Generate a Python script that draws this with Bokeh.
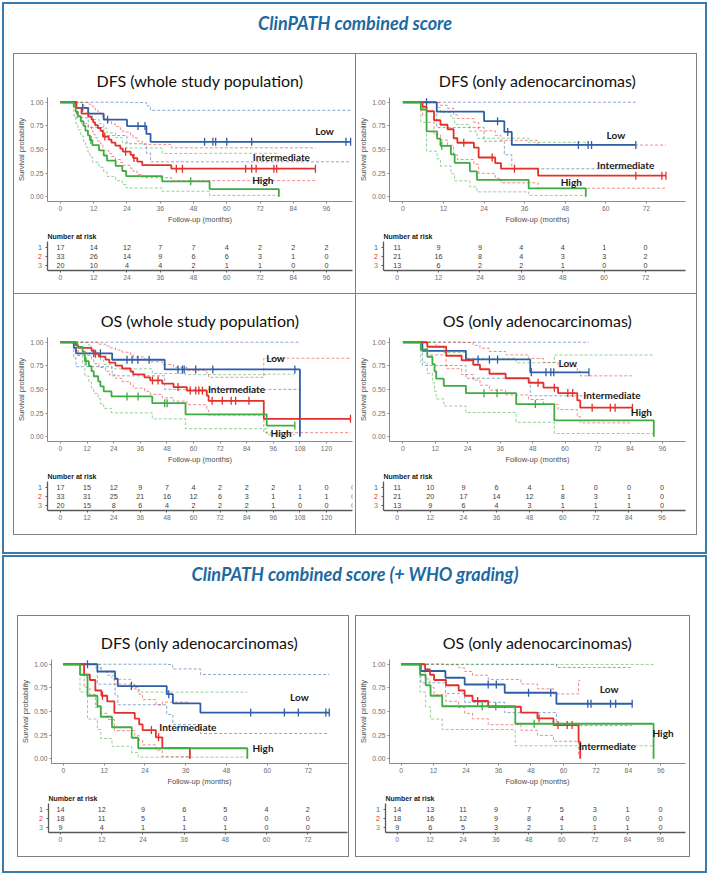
import math

from bokeh.core.properties import value
from bokeh.embed import file_html
from bokeh.layouts import column, row
from bokeh.models import FixedTicker, PrintfTickFormatter, Range1d, Spacer
from bokeh.plotting import figure
from bokeh.resources import INLINE

# ------------------------------------------------------------------ data
# For every risk group: event times and censoring times (months).
# The risk tables hold the printed numbers at risk at each break.

# DFS - whole study population
dfs_all_low_events = [5.7, 10, 15.6, 24, 31, 32.5]
dfs_all_low_censored = [8, 17, 28, 30.5, 52, 55, 56, 60, 69, 103, 104.7]
dfs_all_int_events = [5.7, 5.7, 7.6, 7.6, 10, 11.2, 11.8, 12.5, 13.5, 14.5, 15.3, 15.3,
                      17.4, 18.4, 19.8, 21.6, 22.5, 25.3, 26.2, 27.7, 29.5, 40]
dfs_all_int_censored = [16, 23.5, 26.5, 41.8, 44, 66.8, 69, 70.6, 77, 78, 92]
dfs_all_high_events = [4.8, 5.5, 6.3, 7.3, 8.3, 9.0, 9.9, 10.6, 11.5, 13.9, 15.6, 16.8,
                       19.9, 22.3, 23.7, 36.7, 53.8, 78.8]
dfs_all_high_censored = [11.0, 47]
dfs_all_breaks = [0, 12, 24, 36, 48, 60, 72, 84, 96]
dfs_all_risk_low = [17, 14, 12, 7, 7, 4, 2, 2, 2]
dfs_all_risk_int = [33, 26, 14, 9, 6, 6, 3, 1, 0]
dfs_all_risk_high = [20, 10, 4, 4, 2, 1, 1, 0, 0]

# DFS - adenocarcinomas only
dfs_adc_low_events = [10, 24, 30, 32.2]
dfs_adc_low_censored = [7, 28, 31, 51.9, 54.8, 55.8, 68.9]
dfs_adc_int_events = [5.8, 7, 9.2, 9.2, 11.1, 13.2, 15, 15, 16.1, 21, 22.4, 22.4, 27.3, 29, 40]
dfs_adc_int_censored = [18, 26.4, 33, 68.9, 76.6, 77.8]
dfs_adc_high_events = [5.3, 7, 7, 7, 10.1, 11.1, 14.2, 15.3, 19.8, 21.9, 37.2, 54.1]
dfs_adc_high_censored = [11.5]
dfs_adc_breaks = [0, 12, 24, 36, 48, 60, 72]
dfs_adc_risk_low = [11, 9, 9, 4, 4, 1, 0]
dfs_adc_risk_int = [21, 16, 8, 4, 3, 3, 2]
dfs_adc_risk_high = [13, 6, 2, 2, 1, 0, 0]

# OS - whole study population
os_all_low_events = [6, 7, 23.3, 47, 108]
os_all_low_censored = [15, 18, 30, 32.3, 34.9, 40, 53, 55, 55.8, 61, 68.7, 105.7]
os_all_int_events = [6.8, 8, 14, 15, 17.3, 20.3, 22, 24.8, 27.8, 31.6, 32.8, 37.9, 40.5,
                     45.9, 51, 57, 66, 66.8, 91.7]
os_all_int_censored = [15.8, 41.5, 44, 53, 58.5, 61, 62.4, 64, 68.4, 73, 77, 79, 85, 130.8]
os_all_high_events = [7.5, 10, 11, 11, 12.8, 14, 15, 17, 18, 19.5, 23, 41.4, 56.4, 93]
os_all_high_censored = [11.5, 30, 35, 47, 48.1, 105.7]
os_all_breaks = [0, 12, 24, 36, 48, 60, 72, 84, 96, 108, 120, 132]
os_all_risk_low = [17, 15, 12, 9, 7, 4, 2, 2, 2, 1, 0, 0]
os_all_risk_int = [33, 31, 25, 21, 16, 12, 6, 3, 1, 1, 1, 0]
os_all_risk_high = [20, 15, 8, 6, 4, 2, 2, 2, 1, 0, 0, 0]

# OS - adenocarcinomas only
os_adc_low_events = [7.2, 23.3, 47.1]
os_adc_low_censored = [27.8, 32, 35, 47.5, 52.9, 54.7, 55.8, 68.8]
os_adc_int_events = [9, 16, 16, 21.7, 26, 28.5, 32, 38, 46.5, 52, 57.4, 64.5, 65.6]
os_adc_int_censored = [50, 56, 61, 62.8, 70, 76.7, 78.5, 84.9]
os_adc_high_events = [6.6, 9, 10.9, 11.7, 12.3, 15.1, 23.3, 41.9, 56, 92.8]
os_adc_high_censored = [30, 34.8, 49]
os_adc_breaks = [0, 12, 24, 36, 48, 60, 72, 84, 96]
os_adc_risk_low = [11, 10, 9, 6, 4, 1, 0, 0, 0]
os_adc_risk_int = [21, 20, 17, 14, 12, 8, 3, 1, 0]
os_adc_risk_high = [13, 9, 6, 4, 3, 1, 1, 1, 0]

# DFS - adenocarcinomas, score with WHO grading
who_dfs_low_events = [10, 15.2, 16, 30.4, 32.2, 40.3]
who_dfs_low_censored = [7.1, 20, 31, 55.1, 65, 69.1, 77.2, 78.2]
who_dfs_int_events = [6.1, 6.1, 7.8, 9.4, 9.4, 11.2, 12.9, 15, 15, 21, 22.3, 23.3, 27.2, 29.1, 37.2]
who_dfs_int_censored = [11.5, 25.9, 28]
who_dfs_high_events = [4.9, 7.1, 7.1, 10, 11, 14.3, 20.1, 22, 54.1]
who_dfs_high_censored = []
who_dfs_breaks = [0, 12, 24, 36, 48, 60, 72]
who_dfs_risk_low = [14, 12, 9, 6, 5, 4, 2]
who_dfs_risk_int = [18, 11, 5, 1, 0, 0, 0]
who_dfs_risk_high = [9, 4, 1, 1, 1, 0, 0]

# OS - adenocarcinomas, score with WHO grading
who_os_low_events = [7.3, 16.4, 23.5, 38.3, 57.4]
who_os_low_censored = [32.2, 35.2, 47.1, 55.3, 69, 70.2, 77.4, 79.3, 85.4]
who_os_int_events = [8.9, 10.7, 12.2, 16.6, 21.3, 23.5, 26.4, 32.2, 44.3, 50.4, 56.3, 65.6, 66.2]
who_os_int_censored = [28.3, 51, 58, 61.4, 63.2]
who_os_high_events = [7, 9.1, 10.9, 15.2, 42.2, 93.3]
who_os_high_censored = [30, 35, 49.2]
who_os_breaks = [0, 12, 24, 36, 48, 60, 72, 84, 96]
who_os_risk_low = [14, 13, 11, 9, 7, 5, 3, 1, 0]
who_os_risk_int = [18, 16, 12, 9, 8, 4, 0, 0, 0]
who_os_risk_high = [9, 6, 5, 3, 2, 1, 1, 1, 0]

GROUP_NAMES = ["Low", "Intermediate", "High"]
STRATA = ["1", "2", "3"]

# ------------------------------------------------------------------ style
GROUP_COLORS = ["#2f5ea8", "#e4302b", "#3dad42"]
ROW_Y = [3, 2, 1]
FRAME_BLUE = "#3b7bab"
TITLE_BLUE = "#1c6aa0"
BOX_GRAY = "#808080"
AXIS_GRAY = "#8a8a8a"
TABLE_AXIS = "#5a5a5a"

PANELS = [
    dict(title="DFS (whole study population)",
         groups=[(dfs_all_low_events, dfs_all_low_censored),
                 (dfs_all_int_events, dfs_all_int_censored),
                 (dfs_all_high_events, dfs_all_high_censored)],
         risk=[dfs_all_risk_low, dfs_all_risk_int, dfs_all_risk_high],
         breaks=dfs_all_breaks, xrange=(-4.69, 105.38),
         labels=[(95.3, 0.695), (79.7, 0.417), (73.0, 0.176)]),
    dict(title="DFS (only adenocarcinomas)",
         groups=[(dfs_adc_low_events, dfs_adc_low_censored),
                 (dfs_adc_int_events, dfs_adc_int_censored),
                 (dfs_adc_high_events, dfs_adc_high_censored)],
         risk=[dfs_adc_risk_low, dfs_adc_risk_int, dfs_adc_risk_high],
         breaks=dfs_adc_breaks, xrange=(-3.97, 83.59),
         labels=[(63.0, 0.654), (65.9, 0.336), (49.8, 0.159)]),
    dict(title="OS (whole study population)",
         groups=[(os_all_low_events, os_all_low_censored),
                 (os_all_int_events, os_all_int_censored),
                 (os_all_high_events, os_all_high_censored)],
         risk=[os_all_risk_low, os_all_risk_int, os_all_risk_high],
         breaks=os_all_breaks, xrange=(-5.86, 131.71),
         labels=[(97.0, 0.834), (79.4, 0.503), (99.5, 0.035)]),
    dict(title="OS (only adenocarcinomas)",
         groups=[(os_adc_low_events, os_adc_low_censored),
                 (os_adc_int_events, os_adc_int_censored),
                 (os_adc_high_events, os_adc_high_censored)],
         risk=[os_adc_risk_low, os_adc_risk_int, os_adc_risk_high],
         breaks=os_adc_breaks, xrange=(-4.97, 104.53),
         labels=[(61.0, 0.78), (77.3, 0.443), (88.2, 0.257)]),
    dict(title="DFS (only adenocarcinomas)",
         groups=[(who_dfs_low_events, who_dfs_low_censored),
                 (who_dfs_int_events, who_dfs_int_censored),
                 (who_dfs_high_events, who_dfs_high_censored)],
         risk=[who_dfs_risk_low, who_dfs_risk_int, who_dfs_risk_high],
         breaks=who_dfs_breaks, xrange=(-3.49, 83.56),
         labels=[(69.4, 0.65), (36.6, 0.337), (58.7, 0.109)]),
    dict(title="OS (only adenocarcinomas)",
         groups=[(who_os_low_events, who_os_low_censored),
                 (who_os_int_events, who_os_int_censored),
                 (who_os_high_events, who_os_high_censored)],
         risk=[who_os_risk_low, who_os_risk_int, who_os_risk_high],
         breaks=who_os_breaks, xrange=(-4.27, 105.1),
         labels=[(76.9, 0.735), (76.2, 0.14), (96.8, 0.27)]),
]


def km_estimate(events, censored):
    """Kaplan-Meier estimate with log-transformed 95% Greenwood limits."""
    obs = [(t, 1) for t in events] + [(t, 0) for t in censored]
    s, h = 1.0, 0.0
    ts, ss, lo, up = [0.0], [1.0], [1.0], [1.0]
    cens_t, cens_s = [], []
    for t in sorted(set(v for v, _ in obs)):
        n = sum(1 for v, _ in obs if v >= t)
        d = sum(1 for v, e in obs if v == t and e == 1)
        c = sum(1 for v, e in obs if v == t and e == 0)
        if d:
            s *= 1.0 - d / n
            if n > d:
                h += d / (n * (n - d))
                se = math.sqrt(h)
                lo_v, up_v = s * math.exp(-1.96 * se), min(1.0, s * math.exp(1.96 * se))
            else:
                lo_v = up_v = float("nan")
            ts.append(t); ss.append(s); lo.append(lo_v); up.append(up_v)
        if c:
            cens_t.append(t); cens_s.append(s)
    t_end = max(v for v, _ in obs)
    if ts[-1] < t_end:
        ts.append(t_end); ss.append(s); lo.append(lo[-1]); up.append(up[-1])
    return ts, ss, lo, up, cens_t, cens_s


def step_path(ts, vs):
    xs, ys = [ts[0]], [vs[0]]
    for i in range(1, len(ts)):
        xs.append(ts[i]); ys.append(vs[i - 1])
        if math.isnan(vs[i]):
            break
        xs.append(ts[i]); ys.append(vs[i])
    return xs, ys


def style_axes(fig, color, width):
    fig.xgrid.visible = False
    fig.ygrid.visible = False
    fig.outline_line_color = None
    for ax in fig.axis:
        ax.axis_line_color = color
        ax.axis_line_width = width
        ax.major_tick_line_color = color
        ax.major_tick_out = 2
        ax.major_tick_in = 0
        ax.minor_tick_line_color = None
        ax.major_label_text_font = "Liberation Sans"
        ax.major_label_text_font_size = "6.8px"
        ax.major_label_text_color = "#707070"
        ax.major_label_standoff = 2
        ax.axis_label_text_font = "Liberation Sans"
        ax.axis_label_text_font_size = "7.5px"
        ax.axis_label_text_font_style = "normal"
        ax.axis_label_text_color = "#4d4d4d"
        ax.axis_label_standoff = 1


def survival_plot(spec, width, left, right):
    start, end = spec["xrange"]
    p = figure(width=width, height=172, x_range=Range1d(start, end), y_range=Range1d(-0.05, 1.05),
               min_border_left=left, min_border_right=right, min_border_top=43, min_border_bottom=22,
               toolbar_location=None, output_backend="svg", title=spec["title"])
    p.title.align = "center"
    p.title.text_font = "Lato"
    p.title.text_font_size = "16px"
    p.title.text_font_style = "normal"
    p.title.text_color = "#111111"
    p.title.standoff = 16
    style_axes(p, AXIS_GRAY, 1)
    p.xaxis.ticker = FixedTicker(ticks=spec["breaks"])
    p.yaxis.ticker = FixedTicker(ticks=[0, 0.25, 0.5, 0.75, 1.0])
    p.yaxis.formatter = PrintfTickFormatter(format="%.2f")
    p.xaxis.axis_label = "Follow-up (months)"
    p.yaxis.axis_label = "Survival probability"

    fits = [km_estimate(e, c) for e, c in spec["groups"]]
    # confidence limits first, then the estimates on top
    for fit, color in zip(fits, GROUP_COLORS):
        ts, _, lo, up, _, _ = fit
        for band in (lo, up):
            bx, by = step_path(ts, band)
            p.line(bx, by, line_color=color, line_alpha=0.55, line_width=1, line_dash="3 2")
    for fit, color in zip(fits, GROUP_COLORS):
        ts, ss, _, _, ct, cs = fit
        sx, sy = step_path(ts, ss)
        p.line(sx, sy, line_color=color, line_width=1.8)
        p.scatter(ct, cs, marker="dash", angle=math.pi / 2, size=8,
                  line_color=color, line_width=1.3)
    p.text([pt[0] for pt in spec["labels"]], [pt[1] for pt in spec["labels"]], text=GROUP_NAMES,
           text_font=value("Lato"), text_font_style="bold", text_font_size="10px",
           text_color="#1a1a1a", text_align="center", text_baseline="middle")
    return p


def risk_table(spec, width, left, right, table_h, x_range):
    """Numbers at risk; the coloured stratum keys sit in a narrow strip to the left."""
    key_w = left - 5
    frame_top, frame_h = 15, 29
    bottom = table_h - frame_top - frame_h
    y_range = Range1d(0.444, 3.667)

    keys = figure(width=key_w, height=table_h, x_range=Range1d(0, key_w), y_range=y_range,
                  min_border_left=0, min_border_right=0, min_border_top=frame_top,
                  min_border_bottom=bottom, toolbar_location=None, output_backend="svg",
                  x_axis_type=None, y_axis_type=None, outline_line_color=None)
    keys.text([key_w - 0.5] * 3, ROW_Y, text=STRATA, text_color=GROUP_COLORS,
              text_font=value("Liberation Sans"), text_font_size="7.2px",
              text_align="right", text_baseline="middle")

    tab = figure(width=width - key_w, height=table_h, x_range=x_range, y_range=y_range,
                 min_border_left=5, min_border_right=right, min_border_top=frame_top,
                 min_border_bottom=bottom, toolbar_location=None, output_backend="svg",
                 title="Number at risk")
    tab.title.align = "left"
    tab.title.text_font = "Liberation Sans"
    tab.title.text_font_size = "7px"
    tab.title.text_font_style = "bold"
    tab.title.text_color = "#222222"
    tab.title.standoff = 3
    style_axes(tab, TABLE_AXIS, 1.3)
    tab.xaxis.ticker = FixedTicker(ticks=spec["breaks"])
    tab.yaxis.ticker = FixedTicker(ticks=ROW_Y)
    tab.yaxis.major_label_overrides = {y: "" for y in ROW_Y}
    tab.yaxis.major_label_standoff = 0
    for counts, y in zip(spec["risk"], ROW_Y):
        tab.text(spec["breaks"], [y] * len(counts), text=[str(v) for v in counts],
                 text_font=value("Liberation Sans"), text_font_size="7.2px", text_color="#3d3d3d",
                 text_align="center", text_baseline="middle")
    return row(keys, tab)


def survival_panel(spec, width, left, right, table_h):
    p = survival_plot(spec, width, left, right)
    return column(p, risk_table(spec, width, left, right, table_h, p.x_range))


def rule(w, h, color):
    return Spacer(width=w, height=h, styles={"background-color": color})


def gap(w, h):
    return Spacer(width=w, height=h)


def banner(text, w, h, cy, size):
    f = figure(width=w, height=h, x_range=Range1d(0, w), y_range=Range1d(0, h), min_border=0,
               toolbar_location=None, output_backend="svg", x_axis_type=None, y_axis_type=None,
               outline_line_color=None)
    f.text([w / 2], [h - cy], text=[text], text_font=value("Lato"), text_font_style="bold italic",
           text_font_size=size, text_color=TITLE_BLUE, text_align="center", text_baseline="middle")
    return f


# ------------------------------------------------------------------ layout
q1 = survival_panel(PANELS[0], 341, 33, 3, 67)
q2 = survival_panel(PANELS[1], 340, 27, 11, 67)
q3 = survival_panel(PANELS[2], 341, 33, 3, 68)
q4 = survival_panel(PANELS[3], 340, 27, 11, 68)
q5 = survival_panel(PANELS[4], 330, 30, 1, 68)
q6 = survival_panel(PANELS[5], 333, 29, 4, 68)

box_top = column(
    rule(684, 1, BOX_GRAY),
    row(rule(1, 239, BOX_GRAY), q1, rule(1, 239, BOX_GRAY), q2, rule(1, 239, BOX_GRAY)),
    rule(684, 1, BOX_GRAY),
    row(rule(1, 240, BOX_GRAY), q3, rule(1, 240, BOX_GRAY), q4, rule(1, 240, BOX_GRAY)),
    rule(684, 1, BOX_GRAY),
)
top_content = column(
    banner("ClinPATH combined score", 701, 49, 18, "18px"),
    row(gap(9, 482), box_top, gap(8, 482)),
    gap(701, 17),
)
top_section = column(
    rule(705, 2, FRAME_BLUE),
    row(rule(2, 548, FRAME_BLUE), top_content, rule(2, 548, FRAME_BLUE)),
    rule(705, 2, FRAME_BLUE),
)

box5 = column(rule(332, 1, BOX_GRAY), row(rule(1, 240, BOX_GRAY), q5, rule(1, 240, BOX_GRAY)),
              rule(332, 1, BOX_GRAY))
box6 = column(rule(335, 1, BOX_GRAY), row(rule(1, 240, BOX_GRAY), q6, rule(1, 240, BOX_GRAY)),
              rule(335, 1, BOX_GRAY))
bottom_content = column(
    banner("ClinPATH combined score (+ WHO grading)", 701, 58, 16, "18px"),
    row(gap(13, 242), box5, gap(6, 242), box6, gap(15, 242)),
    gap(701, 14),
)
bottom_section = column(
    rule(705, 2, FRAME_BLUE),
    row(rule(2, 314, FRAME_BLUE), bottom_content, rule(2, 314, FRAME_BLUE)),
    rule(705, 2, FRAME_BLUE),
)

page = column(
    gap(709, 2),
    row(gap(2, 552), top_section, gap(2, 552)),
    gap(709, 1),
    row(gap(2, 318), bottom_section, gap(2, 318)),
    gap(709, 2),
)

open("out.html", "w").write(file_html(page, INLINE))
